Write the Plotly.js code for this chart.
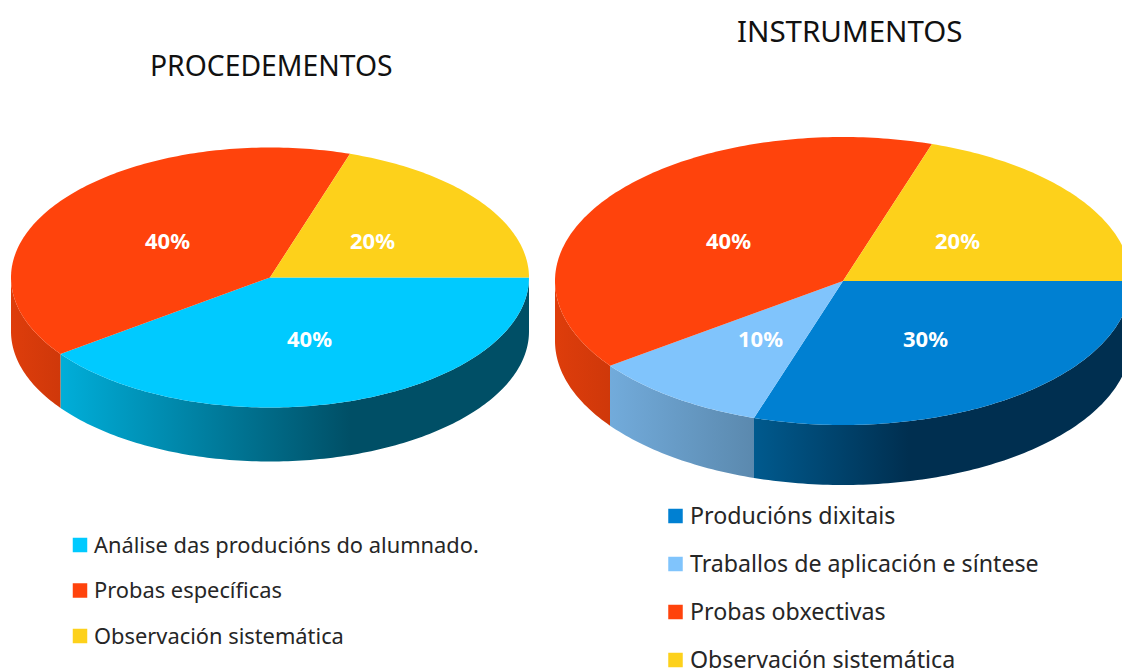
<!DOCTYPE html>
<html><head><meta charset="utf-8">
<script src="https://cdn.plot.ly/plotly-3.0.1.min.js"></script>
<style>html,body{margin:0;padding:0;background:#fff;overflow:hidden}</style>
</head><body><div id="chart" style="width:1122px;height:671px"></div>
<script>
// Data
const procTitle = "PROCEDEMENTOS";
const procLabels = ["Análise das producións do alumnado.", "Probas específicas", "Observación sistemática"];
const procValues = [40, 40, 20];
const procColors = ["#00CAFF", "#FF430C", "#FDD11B"];
const procWalls = [
  [[0, "#00AED9"], [0.62, "#004F66"], [1, "#004F66"]],
  [[0, "#DE3D0B"], [1, "#CF380A"]],
  null
];

const instrTitle = "INSTRUMENTOS";
const instrLabels = ["Producións dixitais", "Traballos de aplicación e síntese", "Probas obxectivas", "Observación sistemática"];
const instrValues = [30, 10, 40, 20];
const instrColors = ["#0080D2", "#80C4FC", "#FF430C", "#FDD11B"];
const instrWalls = [
  [[0, "#005A8E"], [0.41, "#002F50"], [1, "#002F50"]],
  [[0, "#72ABDB"], [1, "#5B89AE"]],
  [[0, "#DE3D0B"], [1, "#CF380A"]],
  null
];

const TEXT = "#262626";
const FONT = "Noto Sans, Open Sans, sans-serif";
const rad = d => d * Math.PI / 180;

function pie3d(g, labels, values, colors, walls) {
  const total = values.reduce((a, b) => a + b, 0);
  const traces = [], notes = [];
  const pt = (a, dy) => [g.cx + g.rx * Math.cos(rad(a)), g.cy + g.ry * Math.sin(rad(a)) + (dy || 0)];
  let start = 0;
  const arcs = values.map(v => { const a = [start, start + v / total * 360]; start = a[1]; return a; });
  // side walls
  arcs.forEach(([a0, a1], i) => {
    const end = Math.min(a1, 180);
    if (a0 >= 180 || !walls[i]) return;
    const xs = [], ys = [];
    for (let a = a0; a < end; a += 1) { const p = pt(a); xs.push(p[0]); ys.push(p[1]); }
    let p = pt(end); xs.push(p[0]); ys.push(p[1]);
    p = pt(end, g.depth); xs.push(p[0]); ys.push(p[1]);
    for (let a = end; a > a0; a -= 1) { const q = pt(a, g.depth); xs.push(q[0]); ys.push(q[1]); }
    p = pt(a0, g.depth); xs.push(p[0]); ys.push(p[1]);
    xs.push(xs[0]); ys.push(ys[0]);
    traces.push({type: "scatter", mode: "none", x: xs, y: ys, fill: "toself",
      fillgradient: {type: "horizontal", colorscale: walls[i]}, hoverinfo: "skip", name: labels[i] + " (lateral)"});
  });
  // top faces
  arcs.forEach(([a0, a1], i) => {
    const xs = [g.cx], ys = [g.cy];
    for (let a = a0; a < a1; a += 1) { const p = pt(a); xs.push(p[0]); ys.push(p[1]); }
    const p = pt(a1); xs.push(p[0], g.cx); ys.push(p[1], g.cy);
    traces.push({type: "scatter", mode: "none", x: xs, y: ys, fill: "toself", fillcolor: colors[i],
      hoverinfo: "text", text: labels[i] + ": " + values[i] + "%", name: labels[i]});
    const mid = (a0 + a1) / 2;
    notes.push({x: g.cx + g.rx * 0.49 * Math.cos(rad(mid)), y: g.cy + g.ry * 0.49 * Math.sin(rad(mid)),
      text: "<b>" + values[i] + "%</b>", showarrow: false, xref: "x", yref: "y",
      font: {family: FONT, size: 22, color: "#FFFFFF"}});
  });
  // title
  notes.push({x: g.titleX, y: g.titleY, text: g.title, showarrow: false, xref: "x", yref: "y",
    font: {family: FONT, size: g.titleSize, color: "#111111"}});
  // legend
  traces.push({type: "scatter", mode: "markers", x: labels.map(() => g.legX),
    y: labels.map((_, i) => g.legY + i * g.legStep), hoverinfo: "skip",
    marker: {symbol: "square", size: 14.5, color: colors, line: {width: 0}}, name: "legend"});
  labels.forEach((l, i) => notes.push({x: g.legTextX, y: g.legY + i * g.legStep - 1, text: l, showarrow: false,
    xref: "x", yref: "y", xanchor: "left", font: {family: FONT, size: g.legSize, color: TEXT}}));
  return {traces, notes};
}

const left = pie3d({cx: 270, cy: 277.5, rx: 259, ry: 130, depth: 54, title: procTitle, titleX: 271.5, titleY: 65, titleSize: 28.3,
  legX: 80, legY: 545, legStep: 45.5, legTextX: 91.5, legSize: 21.85}, procLabels, procValues, procColors, procWalls);
const right = pie3d({cx: 843, cy: 281, rx: 288, ry: 144, depth: 60, title: instrTitle, titleX: 849.5, titleY: 30, titleSize: 29.5,
  legX: 675.5, legY: 516, legStep: 48, legTextX: 687.5, legSize: 23.2}, instrLabels, instrValues, instrColors, instrWalls);

const hidden = {visible: false, fixedrange: true};
Plotly.newPlot("chart", left.traces.concat(right.traces), {
  width: 1122, height: 671, margin: {l: 0, r: 0, t: 0, b: 0}, showlegend: false,
  paper_bgcolor: "#FFFFFF", plot_bgcolor: "#FFFFFF",
  xaxis: Object.assign({range: [0, 1122]}, hidden),
  yaxis: Object.assign({range: [671, 0]}, hidden),
  annotations: left.notes.concat(right.notes)
}, {displayModeBar: false, responsive: false});
</script></body></html>
